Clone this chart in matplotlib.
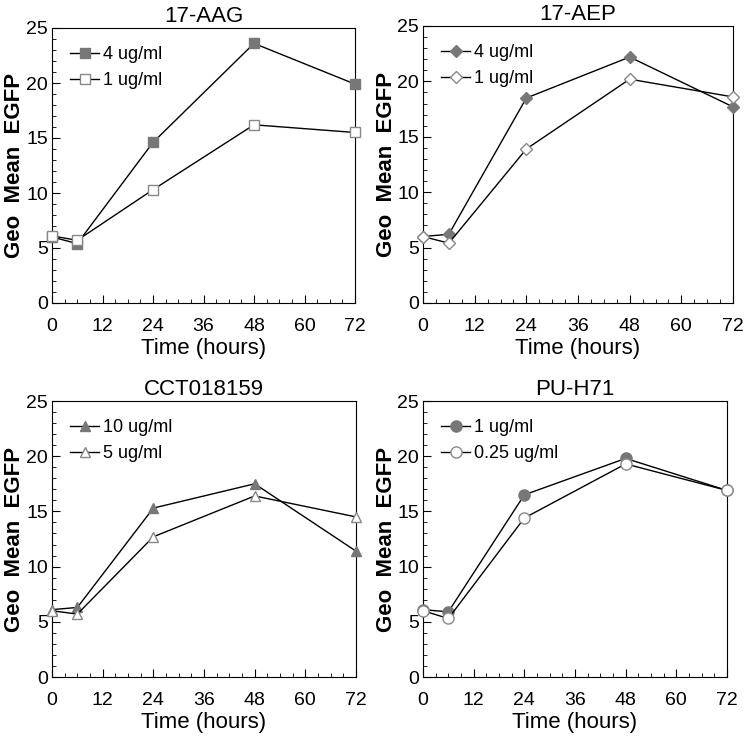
import matplotlib
matplotlib.use("Agg")
import matplotlib.pyplot as plt
from matplotlib.ticker import MultipleLocator

plt.rcParams['font.family'] = ['Liberation Sans', 'DejaVu Sans']

hours = [0, 6, 24, 48, 72]

# 17-AAG
aag_4 = [6.0, 5.4, 14.6, 23.6, 19.9]
aag_1 = [6.1, 5.7, 10.3, 16.2, 15.5]
# 17-AEP
aep_4 = [6.0, 6.2, 18.5, 22.2, 17.7]
aep_1 = [6.0, 5.4, 13.9, 20.2, 18.6]
# CCT018159
cct_10 = [6.1, 6.3, 15.3, 17.5, 11.4]
cct_5 = [6.0, 5.7, 12.7, 16.4, 14.5]
# PU-H71
pu_1 = [6.1, 5.9, 16.5, 19.8, 16.9]
pu_025 = [6.0, 5.3, 14.4, 19.3, 16.9]

panels = [
    ("17-AAG", "s", aag_4, "4 ug/ml", aag_1, "1 ug/ml"),
    ("17-AEP", "D", aep_4, "4 ug/ml", aep_1, "1 ug/ml"),
    ("CCT018159", "^", cct_10, "10 ug/ml", cct_5, "5 ug/ml"),
    ("PU-H71", "o", pu_1, "1 ug/ml", pu_025, "0.25 ug/ml"),
]

# axes boxes in pixels: left, top, right, bottom
boxes = [(52, 28, 355, 303), (423, 26, 733, 303),
         (52, 401, 356, 677), (423, 401, 727, 677)]

W, H = 748, 739
fig = plt.figure(figsize=(W / 100, H / 100), dpi=100)

for (title, mk, hi, hi_lab, lo, lo_lab), (l, t, r, b) in zip(panels, boxes):
    ax = fig.add_axes([l / W, 1 - b / H, (r - l) / W, (b - t) / H])
    ms = {"s": 7, "D": 6, "^": 7.5, "o": 8}[mk]
    ax.plot(hours, hi, color="black", lw=1, marker=mk, ms=ms,
            mfc="#777777", mec="#777777", label=hi_lab, clip_on=False, zorder=3)
    ax.plot(hours, lo, color="black", lw=1, marker=mk, ms=ms,
            mfc="white", mec="#888888", label=lo_lab, clip_on=False, zorder=4)
    ax.set_xlim(0, 72)
    ax.set_ylim(0, 25)
    ax.xaxis.set_major_locator(MultipleLocator(12))
    ax.xaxis.set_minor_locator(MultipleLocator(3))
    ax.yaxis.set_major_locator(MultipleLocator(5))
    ax.yaxis.set_minor_locator(MultipleLocator(1))
    ax.tick_params(which="both", direction="in", top=False, right=False,
                   labelsize=14)
    ax.tick_params(which="major", length=6)
    ax.tick_params(which="minor", length=3)
    ax.tick_params(axis="x", which="major", pad=11)
    ax.tick_params(axis="y", which="major", pad=3)
    ax.set_title(title, fontsize=16, pad=4)
    ax.set_xlabel("Time (hours)", fontsize=16, labelpad=2)
    ax.set_ylabel("Geo  Mean  EGFP", fontsize=16, fontweight="bold",
                  va="center")
    ax.yaxis.set_label_coords(-37 / (r - l), 0.5)
    ax.legend(loc="upper left", frameon=False, fontsize=13, handlelength=1.6,
              handletextpad=0.2, borderaxespad=0.6, labelspacing=0.5)

fig.savefig("out.png", dpi=100)
